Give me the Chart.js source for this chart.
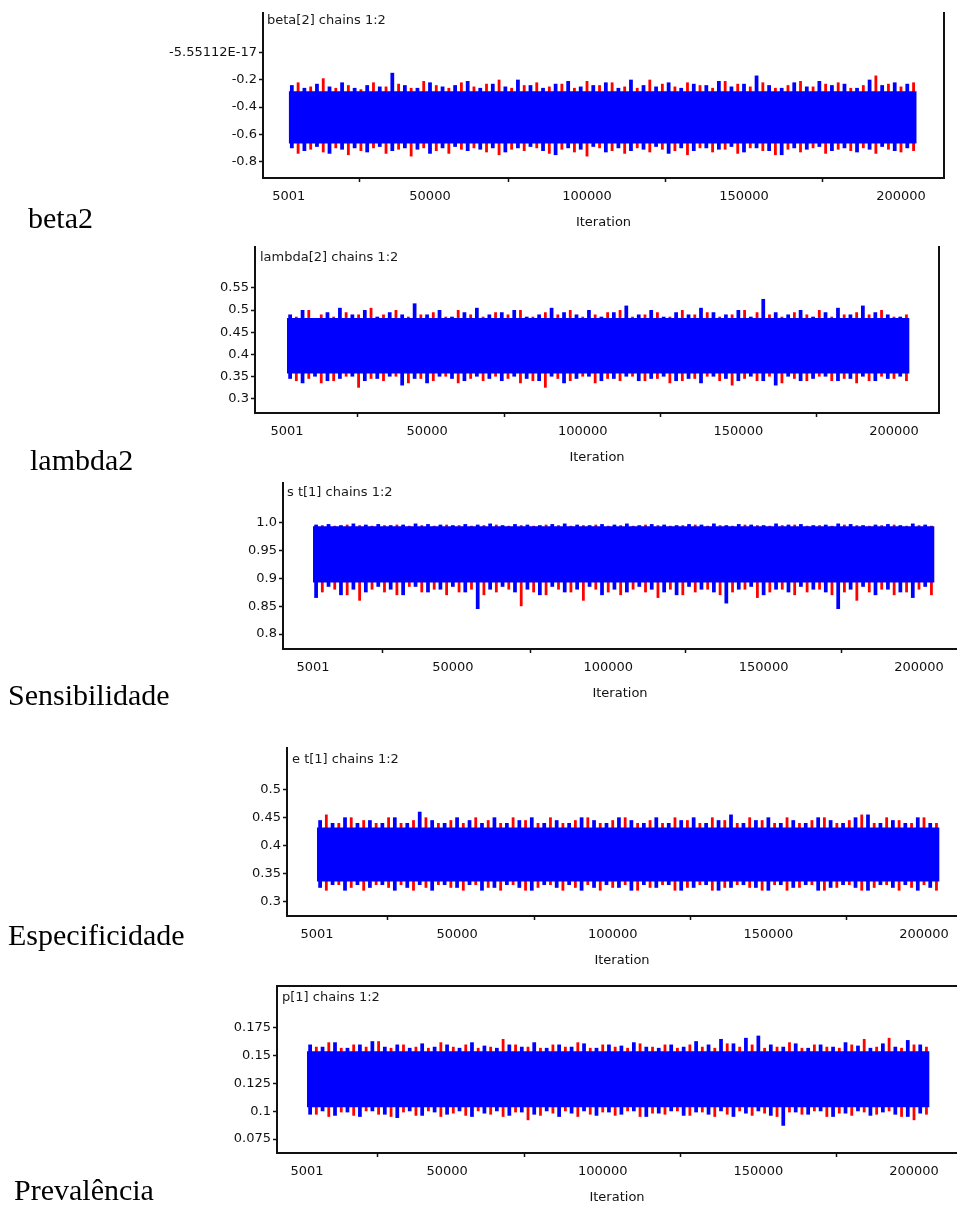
<!DOCTYPE html>
<html>
<head>
<meta charset="utf-8">
<script src="https://cdn.jsdelivr.net/npm/chart.js@4.4.0/dist/chart.umd.min.js"></script>
<style>
  body { margin: 0; background: #fff; width: 957px; height: 1209px; position: relative; overflow: hidden; }
  canvas { position: absolute; left: 0; }
  .lbl { position: absolute; font-family: "Liberation Serif", serif; font-size: 30px; line-height: 30px; color: #000; white-space: nowrap; z-index: 2; }
  .ttl { position: absolute; font-family: "DejaVu Sans", sans-serif; font-size: 13px; line-height: 16px; color: #1a1a1a; white-space: nowrap; z-index: 2; }
</style>
</head>
<body>
<script>
// iterations (x) shared by all traces
const iterTicks = [5001, 50000, 100000, 150000, 200000];
const iterStart = 5001;
const iterEnd = 205000;
const spikeIters = [
  7000, 11000, 15000, 19000, 23000, 27000, 31000, 35000, 39000, 43000,
  47000, 51000, 55000, 59000, 63000, 67000, 71000, 75000, 79000, 83000,
  87000, 91000, 95000, 99000, 103000, 107000, 111000, 115000, 119000, 123000,
  127000, 131000, 135000, 139000, 143000, 147000, 151000, 155000, 159000, 163000,
  167000, 171000, 175000, 179000, 183000, 187000, 191000, 195000, 199000, 203000
];

// beta[2]
const beta2Core = [-0.665, -0.285];
const beta2BlueHi = [-0.24,-0.26,-0.23,-0.25,-0.22,-0.26,-0.24,-0.25,-0.15,-0.24,
  -0.26,-0.22,-0.25,-0.24,-0.21,-0.26,-0.23,-0.25,-0.20,-0.24,
  -0.26,-0.23,-0.21,-0.25,-0.24,-0.22,-0.26,-0.20,-0.24,-0.25,
  -0.22,-0.26,-0.23,-0.24,-0.21,-0.25,-0.23,-0.17,-0.24,-0.26,
  -0.22,-0.25,-0.21,-0.24,-0.23,-0.26,-0.20,-0.24,-0.22,-0.23];
const beta2BlueLo = [-0.70,-0.72,-0.69,-0.74,-0.71,-0.70,-0.73,-0.69,-0.72,-0.70,
  -0.71,-0.74,-0.70,-0.69,-0.72,-0.71,-0.70,-0.73,-0.70,-0.69,
  -0.72,-0.75,-0.70,-0.71,-0.69,-0.73,-0.70,-0.72,-0.71,-0.69,
  -0.74,-0.70,-0.72,-0.70,-0.71,-0.69,-0.73,-0.70,-0.72,-0.75,
  -0.70,-0.71,-0.69,-0.72,-0.70,-0.73,-0.71,-0.69,-0.72,-0.70];
const beta2RedHi = [-0.22,-0.25,-0.19,-0.26,-0.24,-0.27,-0.22,-0.25,-0.23,-0.26,
  -0.21,-0.24,-0.26,-0.22,-0.25,-0.23,-0.20,-0.26,-0.24,-0.22,
  -0.25,-0.23,-0.26,-0.21,-0.24,-0.22,-0.25,-0.26,-0.20,-0.23,
  -0.25,-0.22,-0.24,-0.26,-0.21,-0.23,-0.25,-0.22,-0.26,-0.24,
  -0.21,-0.25,-0.23,-0.22,-0.26,-0.24,-0.17,-0.23,-0.25,-0.22];
const beta2RedLo = [-0.74,-0.71,-0.73,-0.70,-0.75,-0.72,-0.70,-0.74,-0.71,-0.76,
  -0.70,-0.72,-0.74,-0.71,-0.70,-0.73,-0.75,-0.71,-0.72,-0.70,
  -0.74,-0.71,-0.73,-0.76,-0.70,-0.72,-0.74,-0.70,-0.73,-0.71,
  -0.72,-0.75,-0.70,-0.73,-0.71,-0.74,-0.70,-0.72,-0.75,-0.71,
  -0.73,-0.70,-0.74,-0.71,-0.72,-0.70,-0.74,-0.71,-0.73,-0.72];
const beta2Ticks = [-0.8, -0.6, -0.4, -0.2, 0];
const beta2TickLabels = ['-0.8', '-0.6', '-0.4', '-0.2', '-5.55112E-17'];

// lambda[2]
const lambda2Core = [0.357, 0.482];
const lambda2BlueHi = [0.49,0.50,0.48,0.495,0.505,0.49,0.50,0.485,0.495,0.49,
  0.515,0.49,0.50,0.485,0.495,0.505,0.49,0.495,0.50,0.485,
  0.49,0.505,0.495,0.49,0.50,0.485,0.495,0.51,0.49,0.50,
  0.485,0.495,0.49,0.505,0.495,0.49,0.50,0.485,0.525,0.495,
  0.49,0.50,0.485,0.495,0.505,0.49,0.51,0.495,0.49,0.485];
const lambda2BlueLo = [0.345,0.335,0.35,0.34,0.345,0.35,0.34,0.345,0.35,0.33,
  0.345,0.335,0.35,0.345,0.34,0.35,0.345,0.34,0.35,0.345,
  0.34,0.35,0.335,0.345,0.35,0.34,0.345,0.35,0.34,0.345,
  0.35,0.34,0.345,0.335,0.35,0.345,0.34,0.35,0.34,0.33,
  0.35,0.34,0.345,0.35,0.34,0.345,0.35,0.34,0.345,0.35];
const lambda2RedHi = [0.485,0.50,0.49,0.485,0.495,0.49,0.505,0.49,0.50,0.485,
  0.49,0.495,0.485,0.50,0.49,0.485,0.495,0.49,0.50,0.485,
  0.495,0.49,0.50,0.485,0.49,0.495,0.50,0.485,0.49,0.495,
  0.485,0.50,0.49,0.495,0.485,0.49,0.50,0.495,0.49,0.485,
  0.495,0.49,0.50,0.485,0.49,0.495,0.49,0.50,0.485,0.49];
const lambda2RedLo = [0.34,0.345,0.335,0.34,0.35,0.325,0.345,0.34,0.35,0.335,
  0.345,0.34,0.35,0.335,0.345,0.34,0.35,0.345,0.335,0.34,
  0.325,0.345,0.34,0.35,0.335,0.345,0.34,0.35,0.34,0.345,
  0.335,0.34,0.345,0.35,0.34,0.33,0.345,0.34,0.35,0.335,
  0.345,0.34,0.35,0.34,0.345,0.335,0.34,0.35,0.345,0.34];
const lambda2Ticks = [0.3, 0.35, 0.4, 0.45, 0.5, 0.55];
const lambda2TickLabels = ['0.3', '0.35', '0.4', '0.45', '0.5', '0.55'];

// st[1] (sensibilidade)
const senCore = [0.893, 0.994];
const senBlueHi = [0.997,0.998,0.996,0.999,0.997,0.998,0.996,0.997,0.999,0.998,
  0.997,0.996,0.998,0.997,0.999,0.996,0.998,0.997,0.996,0.998,
  0.999,0.997,0.996,0.998,0.997,0.999,0.996,0.998,0.997,0.996,
  0.998,0.997,0.999,0.996,0.998,0.997,0.996,0.999,0.997,0.998,
  0.996,0.997,0.999,0.998,0.996,0.997,0.998,0.996,0.999,0.997];
const senBlueLo = [0.865,0.885,0.87,0.88,0.875,0.885,0.88,0.87,0.885,0.875,
  0.88,0.885,0.875,0.845,0.88,0.885,0.875,0.88,0.87,0.885,
  0.875,0.88,0.885,0.87,0.88,0.875,0.885,0.88,0.875,0.87,
  0.885,0.88,0.875,0.855,0.88,0.885,0.87,0.88,0.875,0.885,
  0.88,0.875,0.845,0.88,0.885,0.87,0.88,0.875,0.865,0.885];
const senRedHi = [0.996,0.995,0.997,0.996,0.995,0.996,0.997,0.995,0.996,0.995,
  0.997,0.996,0.995,0.996,0.997,0.995,0.996,0.995,0.997,0.996,
  0.995,0.996,0.997,0.995,0.996,0.995,0.997,0.996,0.995,0.996,
  0.997,0.995,0.996,0.995,0.997,0.996,0.995,0.996,0.997,0.995,
  0.996,0.995,0.997,0.996,0.995,0.996,0.997,0.995,0.996,0.995];
const senRedLo = [0.875,0.88,0.87,0.86,0.88,0.875,0.87,0.885,0.875,0.88,
  0.87,0.875,0.88,0.87,0.875,0.88,0.85,0.875,0.87,0.88,
  0.875,0.86,0.88,0.875,0.87,0.88,0.875,0.865,0.88,0.87,
  0.875,0.88,0.87,0.875,0.88,0.865,0.875,0.88,0.87,0.875,
  0.88,0.87,0.875,0.86,0.875,0.88,0.87,0.875,0.88,0.87];
const senTicks = [0.8, 0.85, 0.9, 0.95, 1.0];
const senTickLabels = ['0.8', '0.85', '0.9', '0.95', '1.0'];

// et[1] (especificidade)
const espCore = [0.336, 0.432];
const espBlueHi = [0.445,0.44,0.45,0.44,0.445,0.44,0.45,0.44,0.46,0.445,
  0.44,0.45,0.445,0.44,0.45,0.44,0.445,0.45,0.44,0.445,
  0.44,0.45,0.445,0.44,0.45,0.445,0.44,0.45,0.44,0.445,
  0.45,0.44,0.445,0.455,0.44,0.445,0.45,0.44,0.445,0.44,
  0.45,0.445,0.44,0.45,0.455,0.44,0.445,0.44,0.45,0.44];
const espBlueLo = [0.325,0.33,0.32,0.33,0.325,0.33,0.32,0.325,0.33,0.32,
  0.33,0.325,0.33,0.32,0.325,0.33,0.325,0.32,0.33,0.325,
  0.33,0.32,0.325,0.33,0.325,0.32,0.33,0.325,0.33,0.32,
  0.325,0.33,0.32,0.325,0.33,0.325,0.32,0.33,0.325,0.33,
  0.32,0.325,0.33,0.325,0.32,0.33,0.325,0.33,0.32,0.325];
const espRedHi = [0.455,0.44,0.45,0.445,0.44,0.45,0.44,0.445,0.45,0.44,
  0.445,0.44,0.45,0.445,0.44,0.45,0.445,0.44,0.45,0.44,
  0.445,0.45,0.44,0.445,0.45,0.44,0.445,0.44,0.45,0.445,
  0.44,0.45,0.445,0.44,0.45,0.445,0.44,0.45,0.44,0.445,
  0.45,0.44,0.445,0.455,0.44,0.45,0.445,0.44,0.45,0.44];
const espRedLo = [0.32,0.33,0.325,0.32,0.33,0.325,0.33,0.32,0.325,0.33,
  0.325,0.32,0.33,0.325,0.32,0.33,0.32,0.325,0.33,0.32,
  0.325,0.33,0.32,0.325,0.33,0.32,0.325,0.33,0.32,0.325,
  0.33,0.32,0.325,0.33,0.325,0.32,0.33,0.32,0.325,0.33,
  0.32,0.325,0.33,0.32,0.325,0.33,0.32,0.325,0.33,0.32];
const espTicks = [0.3, 0.35, 0.4, 0.45, 0.5];
const espTickLabels = ['0.3', '0.35', '0.4', '0.45', '0.5'];

// p[1] (prevalência)
const prevCore = [0.1036, 0.154];
const prevBlueHi = [0.16,0.158,0.162,0.157,0.16,0.163,0.158,0.16,0.157,0.161,
  0.158,0.16,0.157,0.162,0.159,0.157,0.16,0.158,0.162,0.157,
  0.16,0.158,0.161,0.157,0.16,0.159,0.162,0.158,0.157,0.16,
  0.158,0.163,0.16,0.165,0.161,0.166,0.168,0.16,0.158,0.161,
  0.157,0.16,0.158,0.162,0.159,0.157,0.161,0.158,0.164,0.16];
const prevBlueLo = [0.097,0.1,0.096,0.099,0.095,0.1,0.097,0.094,0.1,0.096,
  0.099,0.097,0.1,0.095,0.098,0.1,0.096,0.099,0.097,0.1,
  0.095,0.098,0.1,0.096,0.099,0.097,0.1,0.095,0.098,0.1,
  0.096,0.099,0.097,0.1,0.095,0.098,0.1,0.096,0.087,0.099,
  0.097,0.1,0.095,0.098,0.1,0.096,0.099,0.097,0.095,0.098];
const prevRedHi = [0.158,0.162,0.157,0.16,0.158,0.163,0.157,0.16,0.158,0.157,
  0.162,0.158,0.16,0.157,0.158,0.165,0.16,0.158,0.157,0.16,
  0.158,0.162,0.157,0.16,0.158,0.157,0.161,0.158,0.16,0.157,
  0.16,0.158,0.157,0.161,0.158,0.16,0.157,0.158,0.162,0.157,
  0.16,0.158,0.157,0.16,0.165,0.158,0.166,0.157,0.16,0.158];
const prevRedLo = [0.097,0.095,0.099,0.096,0.1,0.097,0.095,0.099,0.096,0.1,
  0.095,0.098,0.096,0.1,0.097,0.095,0.099,0.092,0.096,0.098,
  0.1,0.095,0.097,0.099,0.096,0.1,0.095,0.098,0.097,0.1,
  0.096,0.099,0.095,0.097,0.1,0.096,0.098,0.095,0.099,0.097,
  0.1,0.095,0.098,0.096,0.099,0.097,0.1,0.095,0.092,0.097];
const prevTicks = [0.075, 0.1, 0.125, 0.15, 0.175];
const prevTickLabels = ['0.075', '0.1', '0.125', '0.15', '0.175'];

const BLUE = '#0000ff';
const RED = '#ff0000';
const INK = '#111111';

// panel layout: plot area in page pixels, axis ranges, frame sides
const panels = [
  { name: 'beta2', title: 'beta[2] chains 1:2', core: beta2Core,
    blueHi: beta2BlueHi, blueLo: beta2BlueLo, redHi: beta2RedHi, redLo: beta2RedLo,
    ticks: beta2Ticks, tickLabels: beta2TickLabels,
    area: [263, 13, 944, 178], xr: [-3184, 213694], yr: [-0.917, 0.286], right: true, top: false,
    label: [28, 203], titlePos: [267, 12] },
  { name: 'lambda2', title: 'lambda[2] chains 1:2', core: lambda2Core,
    blueHi: lambda2BlueHi, blueLo: lambda2BlueLo, redHi: lambda2RedHi, redLo: lambda2RedLo,
    ticks: lambda2Ticks, tickLabels: lambda2TickLabels,
    area: [255, 247, 939, 413], xr: [-5279, 214456], yr: [0.268, 0.642], right: true, top: false,
    label: [30, 445], titlePos: [260, 249] },
  { name: 'Sensibilidade', title: 's t[1] chains 1:2', core: senCore,
    blueHi: senBlueHi, blueLo: senBlueLo, redHi: senRedHi, redLo: senRedLo,
    ticks: senTicks, tickLabels: senTickLabels,
    area: [283, 483, 957, 649], xr: [-4652, 212227], yr: [0.773, 1.072], right: false, top: false,
    label: [8, 680], titlePos: [287, 484] },
  { name: 'Especificidade', title: 'e t[1] chains 1:2', core: espCore,
    blueHi: espBlueHi, blueLo: espBlueLo, redHi: espRedHi, redLo: espRedLo,
    ticks: espTicks, tickLabels: espTickLabels,
    area: [287, 748, 957, 916], xr: [-4636, 210600], yr: [0.275, 0.573], right: false, top: false,
    label: [8, 920], titlePos: [292, 751] },
  { name: 'Prevalência', title: 'p[1] chains 1:2', core: prevCore,
    blueHi: prevBlueHi, blueLo: prevBlueLo, redHi: prevRedHi, redLo: prevRedLo,
    ticks: prevTicks, tickLabels: prevTickLabels,
    area: [277, 986, 957, 1153], xr: [-4636, 213813], yr: [0.0625, 0.2126], right: false, top: true,
    label: [14, 1175], titlePos: [282, 989] }
];

Chart.defaults.font.family = '"DejaVu Sans", sans-serif';
Chart.defaults.font.size = 13;
Chart.defaults.color = INK;

const AX_H = 55;  // height below the plot for ticks + "Iteration"

panels.forEach(p => {
  const [left, top, right, bottom] = p.area;
  const cTop = top - 10;
  const cH = bottom - cTop + AX_H;

  const canvas = document.createElement('canvas');
  canvas.width = 957;
  canvas.height = cH;
  canvas.style.top = cTop + 'px';
  document.body.appendChild(canvas);

  const lbl = document.createElement('div');
  lbl.className = 'lbl';
  lbl.textContent = p.name;
  lbl.style.left = p.label[0] + 'px';
  lbl.style.top = p.label[1] + 'px';
  document.body.appendChild(lbl);

  const ttl = document.createElement('div');
  ttl.className = 'ttl';
  ttl.textContent = p.title;
  ttl.style.left = p.titlePos[0] + 'px';
  ttl.style.top = p.titlePos[1] + 'px';
  document.body.appendChild(ttl);

  const spikes = (lo, hi) => spikeIters.map((x, i) => ({ x: x, y: [lo[i], hi[i]] }));

  const scales = {
    x: {
      type: 'linear', position: 'bottom', min: p.xr[0], max: p.xr[1], offset: false,
      afterBuildTicks: s => { s.ticks = iterTicks.map(v => ({ value: v })); },
      afterFit: s => { s.height = AX_H; },
      ticks: { callback: v => String(v), padding: 7, maxRotation: 0, autoSkip: false, color: INK },
      grid: { display: true, drawOnChartArea: false, drawTicks: true, tickLength: 4, tickWidth: 1.5, color: INK },
      border: { display: true, color: INK, width: 2 },
      title: { display: true, text: 'Iteration', color: INK, padding: { top: 0, bottom: 3 } }
    },
    y: {
      type: 'linear', position: 'left', min: p.yr[0], max: p.yr[1],
      afterBuildTicks: s => { s.ticks = p.ticks.map(v => ({ value: v })); },
      afterFit: s => { s.width = left; },
      ticks: { callback: (v, i) => p.tickLabels[i], padding: 2, autoSkip: false, color: INK },
      grid: { display: true, drawOnChartArea: false, drawTicks: true, tickLength: 4, tickWidth: 1.5, color: INK },
      border: { display: true, color: INK, width: 2 }
    }
  };
  if (p.right) {
    scales.yr = {
      type: 'linear', position: 'right', display: true,
      afterFit: s => { s.width = 0; },
      ticks: { display: false }, grid: { display: false },
      border: { display: true, color: INK, width: 2 }
    };
  }
  if (p.top) {
    scales.xt = {
      type: 'linear', position: 'top', display: true,
      afterFit: s => { s.height = 0; },
      ticks: { display: false }, grid: { display: false },
      border: { display: true, color: INK, width: 2 }
    };
  }

  new Chart(canvas.getContext('2d'), {
    type: 'bar',
    data: {
      datasets: [
        { type: 'bar', label: 'chain 2', data: spikes(p.redLo, p.redHi), backgroundColor: RED,
          borderWidth: 0, barPercentage: 0.45, categoryPercentage: 1, order: 3, xAxisID: 'x', yAxisID: 'y' },
        { type: 'line', label: 'chain 1 band', data: [{ x: iterStart, y: p.core[1] }, { x: iterEnd, y: p.core[1] }],
          fill: { value: p.core[0] }, backgroundColor: BLUE, borderWidth: 0, pointRadius: 0,
          order: 2, xAxisID: 'x', yAxisID: 'y' },
        { type: 'bar', label: 'chain 1', data: spikes(p.blueLo, p.blueHi), backgroundColor: BLUE,
          borderWidth: 0, barPercentage: 0.6, categoryPercentage: 1, order: 1, xAxisID: 'x', yAxisID: 'y' }
      ]
    },
    options: {
      responsive: false,
      animation: false,
      devicePixelRatio: 1,
      layout: { padding: { top: 10, left: 0, bottom: 0, right: 957 - right } },
      plugins: { legend: { display: false }, tooltip: { enabled: false } },
      scales: scales
    }
  });
});
</script>
</body>
</html>
